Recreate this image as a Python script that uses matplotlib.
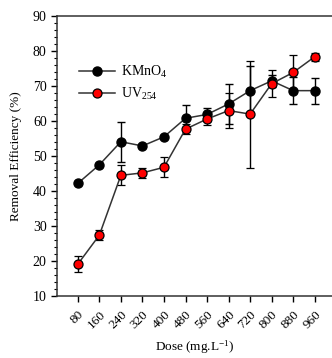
import numpy as np
import matplotlib.pyplot as plt
from matplotlib.ticker import MultipleLocator

plt.rcParams['font.family'] = ['Liberation Serif', 'DejaVu Serif']
plt.rcParams['mathtext.fontset'] = 'custom'
plt.rcParams['mathtext.rm'] = 'Liberation Serif'
plt.rcParams['mathtext.it'] = 'Liberation Serif:italic'

# %%
doses = ["80", "160", "240", "320", "400", "480", "560", "640", "720", "800", "880", "960"]
kmno4 = [42.2, 47.5, 54.1, 52.9, 55.5, 60.8, 61.9, 64.9, 68.7, 71.5, 68.7, 68.7]
kmno4_err = [0.0, 0.0, 5.7, 0.0, 0.0, 3.7, 1.9, 5.6, 7.0, 1.8, 3.8, 3.7]
uv254 = [19.1, 27.4, 44.5, 45.2, 46.8, 57.7, 60.6, 63.0, 62.0, 70.7, 73.9, 78.4]
uv254_err = [2.3, 1.5, 2.9, 1.5, 2.8, 1.5, 1.6, 5.0, 15.3, 3.8, 5.1, 1.2]

# %%
fig = plt.figure(figsize=(3.32, 3.58), dpi=100)
ax = fig.add_axes([0.172, 0.173, 0.828, 0.782])
x = np.arange(len(doses))

e1 = ax.errorbar(x, kmno4, yerr=kmno4_err, color="#333333", lw=1.1, marker="o",
                 ms=6.5, mfc="black", mec="black", ecolor="black", elinewidth=1,
                 capsize=3, capthick=1, zorder=3)
e2 = ax.errorbar(x, uv254, yerr=uv254_err, color="#333333", lw=1.1, marker="o",
                 ms=6.5, mfc="red", mec="black", mew=0.9, ecolor="black",
                 elinewidth=1, capsize=3, capthick=1, zorder=4)

ax.set_xlim(-0.96, 11.8)
ax.set_ylim(10, 90)
ax.set_xticks(x)
ax.set_xticklabels(doses, rotation=45, ha="right", rotation_mode="anchor", fontsize=9.5)
ax.yaxis.set_major_locator(MultipleLocator(10))
ax.yaxis.set_minor_locator(MultipleLocator(2))
ax.tick_params(axis="y", labelsize=10, length=4, width=1)
ax.tick_params(axis="y", which="minor", length=2, width=0.8)
ax.tick_params(axis="x", length=4, width=1, pad=5)
ax.spines["right"].set_visible(False)
for s in ["left", "bottom", "top"]:
    ax.spines[s].set_linewidth(1.1)
    ax.spines[s].set_color("#333333")

ax.set_ylabel("Removal Efficiency (%)", fontsize=9.5, labelpad=8)
ax.set_xlabel("Dose (mg.L$^{-1}$)", fontsize=9.5, labelpad=5)
leg = ax.legend([e1[0], e2[0]], ["KMnO$_4$", "UV$_{254}$"], loc="upper left",
                bbox_to_anchor=(0.035, 0.875), frameon=False, fontsize=10,
                handlelength=2.6, handletextpad=0.4, labelspacing=0.45)

fig.savefig("out.png", dpi=100)
